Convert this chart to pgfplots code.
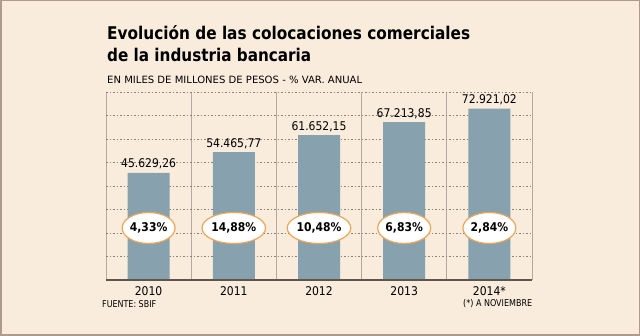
\documentclass[border=0pt]{standalone}
\usepackage{pgfplots}
\pgfplotsset{compat=1.18}
\usepackage{pgfplotstable}
\usepackage{graphicx}
\usepackage{fontspec}
\setmainfont{DejaVu Sans Condensed}
\usetikzlibrary{shapes.geometric}
\definecolor{bgc}{RGB}{249,236,220}
\definecolor{framec}{RGB}{175,155,140}
\definecolor{barc}{RGB}{135,161,175}
\definecolor{ovalc}{RGB}{240,165,85}
\definecolor{gridc}{RGB}{140,130,120}
\definecolor{vlinec}{RGB}{178,170,162}
\definecolor{basec}{RGB}{95,85,75}

\pgfplotstableread{
x y lab
0 45629.26 45.629,26
1 54465.77 54.465,77
2 61652.15 61.652,15
3 67213.85 67.213,85
4 72921.02 72.921,02
}\bars
\pgfplotstableread{
x y lab
0 22130 4,33\%
1 22130 14,88\%
2 22130 10,48\%
3 22130 6,83\%
4 22130 2,84\%
}\pcts

\begin{document}
\begin{tikzpicture}[x=1pt,y=1pt]
\fill[bgc] (0,0) rectangle (640,336);
\draw[framec, line width=1.5pt] (0.75,0.75) rectangle (639.25,335.25);
\node[anchor=base west, inner sep=0] at (107,296) {\resizebox{363pt}{\height}{\bfseries\fontsize{17.5}{20}\selectfont Evolución de las colocaciones comerciales}};
\node[anchor=base west, inner sep=0] at (107,274) {\resizebox{204pt}{\height}{\bfseries\fontsize{17.5}{20}\selectfont de la industria bancaria}};
\node[anchor=base west, inner sep=0] at (107,252) {\resizebox{255pt}{\height}{\fontsize{10}{12}\selectfont EN MILES DE MILLONES DE PESOS - \% VAR. ANUAL}};
\node[anchor=base west, inner sep=0] at (102,28) {\resizebox{54pt}{\height}{\fontsize{9.4}{11}\selectfont FUENTE: SBIF}};
\node[anchor=base west, inner sep=0] at (463,29) {\resizebox{69pt}{\height}{\fontsize{9.4}{11}\selectfont (*) A NOVIEMBRE}};
\begin{axis}[
  at={(106pt,56pt)}, anchor=south west,
  scale only axis, width=426pt, height=188pt,
  xmin=-0.5, xmax=4.5, ymin=0, ymax=80000,
  scaled y ticks=false,
  axis line style={draw=none},
  clip=false,
  xtick={0,...,4},
  xticklabels={2010,2011,2012,2013,2014*},
  minor xtick={-0.5,0.5,...,4.5},
  xminorgrids,
  x grid style={vlinec, line width=0.8pt, solid},
  ytick={10000,20000,...,80000},
  yticklabels={},
  ymajorgrids,
  y grid style={gridc, line width=0.6pt, dash pattern=on 1.5pt off 2pt},
  tick style={draw=none},
  major tick length=0pt, minor tick length=0pt,
  xticklabel style={font=\fontsize{12}{14}\selectfont, text=black, yshift=-3pt},
]
\addplot[ybar, bar width=42pt, fill=barc, draw=none,
  nodes near coords, point meta=explicit symbolic,
  every node near coord/.append style={font=\fontsize{12}{14}\selectfont, text=black}]
  table[x=x, y=y, meta=lab] {\bars};
\draw[basec, line width=1.6pt] (axis cs:-0.5,0) -- (axis cs:4.5,0);
\addplot[draw=none, mark=none,
  nodes near coords, point meta=explicit symbolic,
  every node near coord/.append style={ellipse, draw=ovalc, line width=1.2pt, fill=white,
    minimum width=51pt, minimum height=31pt, inner sep=0pt, anchor=center,
    font=\bfseries\fontsize{12}{14}\selectfont, text=black}]
  table[x=x, y=y, meta=lab] {\pcts};
\end{axis}
\end{tikzpicture}
\end{document}
